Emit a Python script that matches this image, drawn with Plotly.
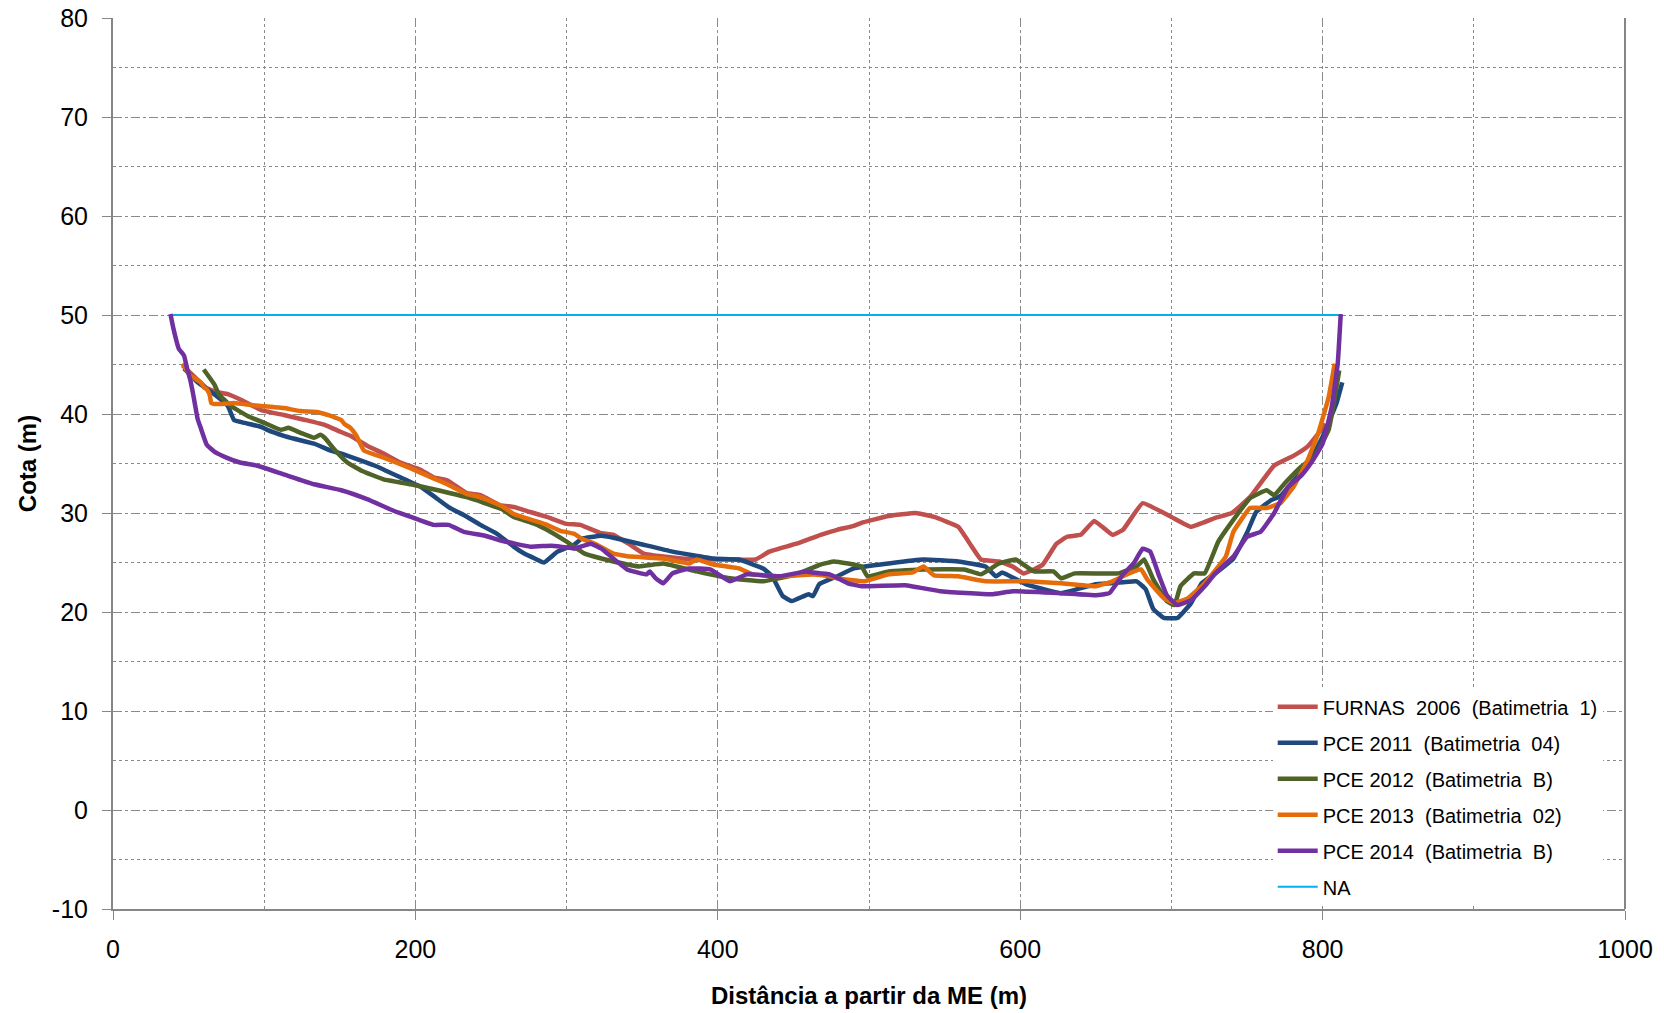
import plotly.graph_objects as go

# ---------------- data ----------------
furnas_x = [46, 55, 62, 69, 76, 85, 98, 113, 127, 140, 149, 157, 168, 179, 190, 203, 212, 221, 234, 243,
            256, 265, 276, 287, 300, 309, 322, 331, 342, 351, 364, 386, 408, 425, 434, 452, 468, 479, 490, 495,
            513, 531, 543, 559, 568, 574, 586, 595, 602, 609, 615, 624, 631, 640, 649, 661, 668, 681, 700, 713,
            729, 740, 752, 768, 781, 790, 797, 802]
furnas_y = [44.9, 43.6, 42.6, 42.2, 42.0, 41.4, 40.4, 39.9, 39.4, 38.9, 38.3, 37.8, 36.8, 36.0, 35.1, 34.4, 33.6, 33.3, 32.0, 31.8,
            30.8, 30.6, 30.1, 29.6, 28.9, 28.8, 28.0, 27.8, 26.8, 25.9, 25.6, 25.3, 25.3, 25.3, 26.1, 26.9, 27.8, 28.3, 28.7, 29.0,
            29.7, 30.0, 29.6, 28.6, 26.6, 25.3, 25.1, 24.6, 23.9, 24.3, 24.8, 26.9, 27.6, 27.8, 29.2, 27.8, 28.3, 31.0, 29.6, 28.6,
            29.5, 30.0, 31.6, 34.8, 35.8, 36.7, 38.0, 39.0]

pce2011_x = [47, 56, 67, 76, 80, 87, 98, 102, 113, 120, 133, 144, 151, 173, 190, 204, 213, 222, 228, 232,
             243, 254, 265, 272, 279, 285, 294, 305, 310, 323, 331, 348, 370, 397, 414, 430, 436, 443, 449, 460,
             463, 467, 474, 479, 490, 513, 536, 559, 577, 584, 588, 604, 627, 650, 668, 677, 683, 688, 695, 704,
             713, 720, 729, 741, 750, 756, 766, 772, 781, 790, 800, 809, 813]
pce2011_y = [44.6, 43.2, 42.0, 40.8, 39.4, 39.1, 38.7, 38.4, 37.8, 37.5, 37.0, 36.3, 36.0, 34.8, 33.6, 32.6, 31.6, 30.6, 30.1, 29.8,
             28.8, 27.9, 26.6, 25.9, 25.4, 25.0, 26.1, 26.8, 27.4, 27.7, 27.5, 26.9, 26.1, 25.4, 25.3, 24.4, 23.6, 21.6, 21.1, 21.8,
             21.6, 22.8, 23.3, 23.6, 24.4, 24.9, 25.3, 25.1, 24.6, 23.6, 24.0, 22.8, 21.9, 22.8, 23.0, 23.1, 22.3, 20.3, 19.4, 19.4,
             20.9, 22.9, 23.9, 25.4, 28.0, 30.1, 31.3, 31.7, 33.3, 34.8, 37.7, 41.0, 43.2]

pce2012_x = [60, 67, 70, 78, 89, 100, 111, 116, 124, 133, 137, 140, 146, 155, 164, 179, 197, 212, 234, 257,
             265, 279, 287, 300, 312, 323, 331, 348, 364, 386, 408, 430, 452, 468, 477, 495, 499, 513, 536, 563,
             574, 586, 597, 609, 622, 627, 636, 665, 677, 682, 688, 697, 702, 706, 715, 722, 731, 740, 752, 763,
             768, 775, 786, 795, 804, 811]
pce2012_y = [44.5, 43.0, 42.0, 40.8, 39.8, 39.1, 38.4, 38.6, 38.1, 37.6, 37.9, 37.6, 36.5, 35.1, 34.3, 33.4, 32.9, 32.4, 31.6, 30.4,
             29.6, 28.9, 28.3, 27.1, 25.9, 25.4, 25.1, 24.6, 24.9, 24.1, 23.4, 23.1, 23.8, 24.8, 25.1, 24.6, 23.6, 24.1, 24.3, 24.3,
             23.8, 24.9, 25.3, 24.1, 24.1, 23.4, 23.9, 23.9, 24.6, 25.3, 23.3, 21.1, 20.7, 22.6, 23.9, 23.9, 27.1, 29.1, 31.5, 32.3,
             31.8, 33.0, 34.7, 35.8, 38.4, 44.4]

pce2013_x = [46, 51, 54, 58, 60, 62, 64, 65, 69, 80, 91, 98, 106, 113, 124, 135, 140, 146, 151, 153,
             157, 161, 166, 179, 197, 212, 221, 234, 243, 257, 265, 279, 287, 296, 305, 310, 320, 331, 342, 364,
             381, 386, 397, 414, 423, 441, 463, 474, 479, 497, 513, 529, 536, 543, 559, 577, 604, 627, 650, 661,
             672, 680, 684, 695, 702, 711, 722, 736, 741, 752, 763, 772, 781, 790, 797, 804, 808]
pce2013_y = [45.1, 43.9, 43.6, 43.2, 42.7, 42.5, 41.9, 41.1, 41.0, 41.1, 40.9, 40.8, 40.7, 40.6, 40.3, 40.2, 40.0, 39.7, 39.4, 39.0,
             38.6, 37.8, 36.3, 35.6, 34.5, 33.5, 32.9, 31.9, 31.6, 30.7, 29.9, 29.2, 28.8, 28.2, 27.9, 27.4, 26.8, 25.9, 25.6, 25.4,
             24.9, 25.3, 24.8, 24.4, 23.8, 23.6, 23.8, 23.6, 23.4, 23.1, 23.8, 24.0, 24.6, 23.7, 23.6, 23.1, 23.1, 22.9, 22.6, 23.1,
             23.9, 24.3, 23.3, 21.4, 20.9, 21.4, 22.9, 25.6, 28.1, 30.5, 30.5, 31.0, 32.7, 35.3, 38.0, 41.7, 45.1]

pce2014_x = [38, 40, 43.5, 47, 49, 51, 53, 55, 56, 58, 62, 67, 75, 84, 95, 113, 133, 151, 168, 186,
             197, 212, 222, 232, 246, 257, 276, 290, 301, 305, 316, 323, 327, 340, 353, 355, 359, 364, 370, 381,
             395, 408, 419, 441, 458, 468, 474, 486, 495, 524, 547, 581, 595, 627, 650, 659, 668, 675, 681, 686,
             692, 697, 704, 713, 722, 729, 741, 750, 759, 768, 777, 786, 793, 800, 806, 810, 812]
pce2014_y = [50.1, 48.6, 46.6, 45.9, 44.6, 43.5, 42.0, 40.3, 39.5, 38.6, 36.9, 36.2, 35.6, 35.1, 34.8, 33.9, 32.9, 32.3, 31.4, 30.2,
             29.6, 28.8, 28.8, 28.1, 27.7, 27.2, 26.6, 26.7, 26.5, 26.4, 26.9, 26.4, 25.9, 24.3, 23.8, 24.1, 23.4, 22.9, 23.9, 24.4,
             24.3, 23.1, 23.8, 23.6, 24.1, 23.9, 23.8, 22.9, 22.6, 22.7, 22.1, 21.8, 22.1, 21.9, 21.7, 21.9, 23.8, 24.9, 26.4, 26.1,
             23.6, 21.7, 20.7, 21.2, 22.6, 23.9, 25.6, 27.6, 28.1, 30.0, 32.6, 33.8, 35.2, 37.0, 40.7, 45.1, 50.1]

na_x = [38, 813]
na_y = [50, 50]

series_names = ["FURNAS  2006  (Batimetria  1)", "PCE 2011  (Batimetria  04)", "PCE 2012  (Batimetria  B)",
                "PCE 2013  (Batimetria  02)", "PCE 2014  (Batimetria  B)", "NA"]

x_ticks = [0, 200, 400, 600, 800, 1000]
y_ticks = [-10, 0, 10, 20, 30, 40, 50, 60, 70, 80]

# ---------------- figure ----------------
colors = ["#C0504D", "#1F497D", "#4F6228", "#E46C0A", "#7030A0", "#00B0F0"]
xs = [furnas_x, pce2011_x, pce2012_x, pce2013_x, pce2014_x, na_x]
ys = [furnas_y, pce2011_y, pce2012_y, pce2013_y, pce2014_y, na_y]
widths = [4.5, 4.5, 4.5, 4.5, 4.5, 2]

FONT = "Arial, Liberation Sans, sans-serif"
GRID = "#8a8a8a"

fig = go.Figure()
order = [5, 0, 1, 2, 3, 4]  # draw NA first so it sits under the profiles
for i in order:
    fig.add_trace(go.Scatter(
        x=xs[i], y=ys[i], mode="lines", name=series_names[i],
        line=dict(color=colors[i], width=widths[i], shape="spline", smoothing=0.3),
        legendgroup=f"g{i}", legendrank=i + 1,
    ))

fig.update_layout(
    width=1664, height=1013,
    margin=dict(l=105, r=47, t=10, b=112, autoexpand=False),
    paper_bgcolor="white", plot_bgcolor="white",
    font=dict(family=FONT, color="black"),
    showlegend=True,
    legend=dict(
        x=0.767, y=0.003, xanchor="left", yanchor="bottom",
        bgcolor="white", borderwidth=0,
        font=dict(size=20, family=FONT, color="black"),
        traceorder="grouped", tracegroupgap=7,
        itemwidth=40,
    ),
    xaxis=dict(
        range=[0, 1000], tickvals=x_ticks, ticktext=[str(v) for v in x_ticks],
        automargin=False, ticklabeloverflow="allow",
        showline=True, linecolor="#868686", linewidth=2,
        ticks="outside", ticklen=9, tickcolor="#868686", tickwidth=1,
        ticklabelstandoff=8,
        tickfont=dict(size=25, family=FONT),
        showgrid=True, gridcolor=GRID, gridwidth=1, griddash="dash",
        zeroline=False,
        minor=dict(dtick=100, tick0=0, showgrid=True, gridcolor=GRID, gridwidth=1, griddash="dot", ticks=""),
        title=dict(text="<b>Distância a partir da ME (m)</b>", font=dict(size=24, family=FONT), standoff=25),
    ),
    yaxis=dict(
        range=[-10, 80], tickvals=y_ticks, ticktext=[str(v) for v in y_ticks],
        automargin=False, ticklabeloverflow="allow",
        showline=True, linecolor="#868686", linewidth=2,
        ticks="outside", ticklen=9, tickcolor="#868686", tickwidth=1,
        ticklabelstandoff=9,
        tickfont=dict(size=25, family=FONT),
        showgrid=True, gridcolor=GRID, gridwidth=1, griddash="dash",
        zeroline=False,
        minor=dict(dtick=5, tick0=0, showgrid=True, gridcolor=GRID, gridwidth=1, griddash="dot", ticks=""),
        title=dict(text="<b>Cota (m)</b>", font=dict(size=24, family=FONT), standoff=8),
    ),
    shapes=[dict(type="line", xref="paper", yref="paper", x0=1, x1=1, y0=0, y1=1,
                 line=dict(color="#868686", width=2))],
)

fig.write_html("out.html")
